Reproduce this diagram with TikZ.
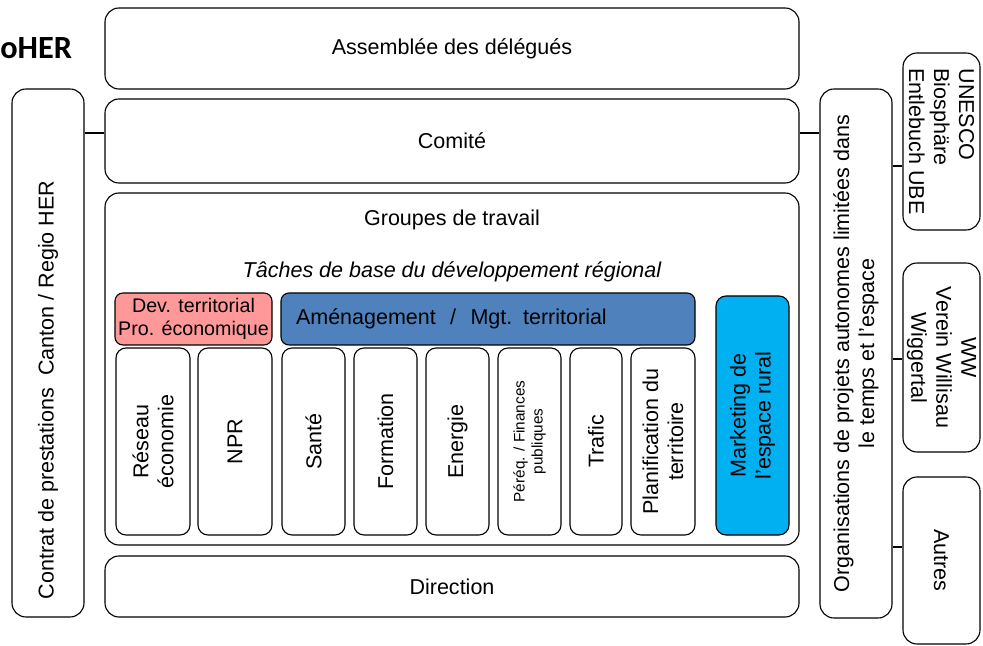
\documentclass[tikz,border=0pt]{standalone}
\usepackage{fontspec}
\setmainfont{Liberation Sans}
\newfontfamily\titlefont{Carlito}
\usepackage{tikz}

\definecolor{devpink}{HTML}{FF9999}
\definecolor{amenblue}{HTML}{4F81BD}
\definecolor{mktcyan}{HTML}{00B0F0}

\begin{document}
\begin{tikzpicture}[
    every node/.style={font=\fontsize{15.3}{17.8}\selectfont},
    box/.style={draw, rounded corners=0.35cm, line width=0.8pt, inner sep=0pt},
    tagbox/.style={draw, rounded corners=0.2cm, line width=0.8pt, inner sep=0pt, minimum height=1.3cm, align=center},
    colbox/.style={draw, rounded corners=0.25cm, line width=0.8pt, inner sep=0pt, rotate=90, minimum width=4.675cm, align=center},
    link/.style={line width=1.5pt}
]
        \useasboundingbox (0,0) rectangle (24.575,-16.15);

        \node[anchor=west, inner sep=0pt, font=\titlefont\bfseries\fontsize{23}{26}\selectfont] (titre) at (0,-1.2) {oHER};

        % central column
        \node[box, minimum width=17.35cm, minimum height=2.025cm] (assemblee) at (11.3,-1.2125) {Assemblée des délégués};
        \node[box, minimum width=17.35cm, minimum height=2.1cm] (comite) at (11.3,-3.525) {Comité};
        \node[box, minimum width=17.35cm, minimum height=8.8cm] (groupes) at (11.3,-9.225) {};
        \node (groupestitre) at (11.3,-5.5) {Groupes de travail};
        \node[font=\fontsize{15.3}{17.8}\selectfont\itshape] (taches) at (11.3,-6.8) {Tâches de base du développement régional};
        \node[box, minimum width=17.35cm, minimum height=1.525cm] (direction) at (11.3,-14.6625) {Direction};

        % side boxes
        \node[box, rotate=90, minimum width=13.2cm, minimum height=1.8cm] (contrat) at (1.2,-8.825) {};
        \node[rotate=90] (contrattexte) at (1.2,-9.75) {Contrat de prestations\ \ Canton / Regio HER};
        \node[box, rotate=90, align=center, minimum width=13.225cm, minimum height=1.8cm] (orga) at (21.4,-8.8375) {Organisations de projets autonomes limitées dans\\le temps et l'espace};
        \node[box, rotate=-90, align=left, minimum width=4.425cm, minimum height=1.925cm] (unesco) at (23.5375,-3.5375) {UNESCO\\Biosphäre\\Entlebuch UBE};
        \node[box, rotate=-90, align=center, minimum width=4.725cm, minimum height=1.925cm] (ww) at (23.5375,-8.9375) {WW\\Verein Willisau\\Wiggertal};
        \node[box, rotate=-90, minimum width=4.175cm, minimum height=1.925cm] (autres) at (23.5375,-14.0125) {Autres};

        % groupes de travail
        \node[tagbox, fill=devpink, minimum width=3.925cm, font=\fontsize{14}{16.5}\selectfont] (devterr) at (4.8375,-7.975) {Dev. territorial\\Pro. économique};
        \node[tagbox, fill=amenblue, minimum width=10.35cm, text width=9.6cm, align=left] (amenag) at (12.2,-7.975) {Aménagement\ \ /\ \ Mgt. territorial};
        \node[colbox, fill=mktcyan, minimum width=5.975cm, minimum height=1.825cm] (marketing) at (18.8125,-10.3875) {Marketing de\\l'espace rural};

        \node[colbox, minimum height=1.85cm] (reseau) at (3.825,-11.0375) {Réseau\\économie};
        \node[colbox, minimum height=1.85cm] (npr) at (5.875,-11.0375) {NPR};
        \node[colbox, minimum height=1.575cm] (sante) at (7.8375,-11.0375) {Santé};
        \node[colbox, minimum height=1.575cm] (formation) at (9.6375,-11.0375) {Formation};
        \node[colbox, minimum height=1.575cm] (energie) at (11.4375,-11.0375) {Energie};
        \node[colbox, minimum height=1.575cm, font=\fontsize{10.9}{12.8}\selectfont] (pereq) at (13.2375,-11.0375) {Péréq. / Finances\\publiques};
        \node[colbox, minimum height=1.3cm] (trafic) at (14.9,-11.0375) {Trafic};
        \node[colbox, minimum height=1.6cm] (planif) at (16.575,-11.0375) {Planification du\\territoire};

        % liens
        \coordinate (cl) at ([yshift=0.2cm]comite.west);
        \coordinate (cr) at ([yshift=0.2cm]comite.east);
        \coordinate (cu) at ([yshift=-0.6125cm]unesco.center);
        \coordinate (cw) at ([yshift=-0.04cm]ww.center);
        \coordinate (ca) at ([yshift=0.3375cm]autres.center);

        \draw[link] (cl) -- (cl -| contrat.south);
        \draw[link] (cr) -- (cr -| orga.north);
        \draw[link] (cu -| orga.south) -- (cu -| unesco.south);
        \draw[link] (cw -| orga.south) -- (cw -| ww.south);
        \draw[link] (ca -| orga.south) -- (ca -| autres.south);
    \end{tikzpicture}
\end{document}
